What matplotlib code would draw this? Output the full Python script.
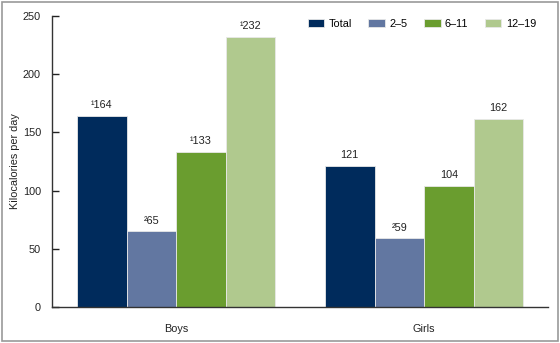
import numpy as np
import matplotlib.pyplot as plt
from matplotlib.patches import Rectangle

plt.rcParams['font.family'] = ['Liberation Sans', 'DejaVu Sans']

groups = ['Boys', 'Girls']
series = ['Total', '2–5', '6–11', '12–19']
total = [164, 121]
age_2_5 = [65, 59]
age_6_11 = [133, 104]
age_12_19 = [232, 162]
labels_total = ['¹164', '121']
labels_2_5 = ['²65', '²59']
labels_6_11 = ['¹133', '104']
labels_12_19 = ['¹232', '162']

colors = ['#002B5C', '#6277A1', '#6A9D2F', '#B0C98E']
values = [total, age_2_5, age_6_11, age_12_19]
labels = [labels_total, labels_2_5, labels_6_11, labels_12_19]

fig = plt.figure(figsize=(5.6, 3.43), dpi=100)
ax = fig.add_axes([0.093, 0.105, 0.886, 0.848])

x = np.arange(len(groups))
w = 0.2
for i, (name, vals, labs) in enumerate(zip(series, values, labels)):
    pos = x + (i - 1.5) * w
    ax.bar(pos, vals, width=w, color=colors[i], edgecolor='#e8e8e8', linewidth=0.6, label=name)
    for p, v, t in zip(pos, vals, labs):
        ax.text(p, v + 5, t, ha='center', va='bottom', fontsize=7.8, color='#222222')

ax.set_xlim(-0.5, 1.5)
ax.set_ylim(0, 250)
ax.set_yticks(range(0, 251, 50))
ax.set_xticks(x)
ax.set_xticklabels(groups)
ax.tick_params(axis='x', length=0, pad=12, labelsize=7.8, colors='#222222')
ax.tick_params(axis='y', direction='in', length=5, width=1, labelsize=7.8, colors='#222222', pad=8)
ax.set_ylabel('Kilocalories per day', fontsize=7.8, color='#222222', labelpad=2)
for s in ['top', 'right']:
    ax.spines[s].set_visible(False)
for s in ['left', 'bottom']:
    ax.spines[s].set_color('#333333')
    ax.spines[s].set_linewidth(1)

ax.legend(loc='upper right', bbox_to_anchor=(0.995, 1.025), ncol=4, frameon=False, fontsize=7.8,
          handlelength=1.55, handleheight=0.8, columnspacing=1.5, handletextpad=0.4)

fig.patches.append(Rectangle((0.004, 0.006), 0.992, 0.988, transform=fig.transFigure,
                             fill=False, edgecolor='#999999', linewidth=1.2))

fig.savefig('out.png', dpi=100)
